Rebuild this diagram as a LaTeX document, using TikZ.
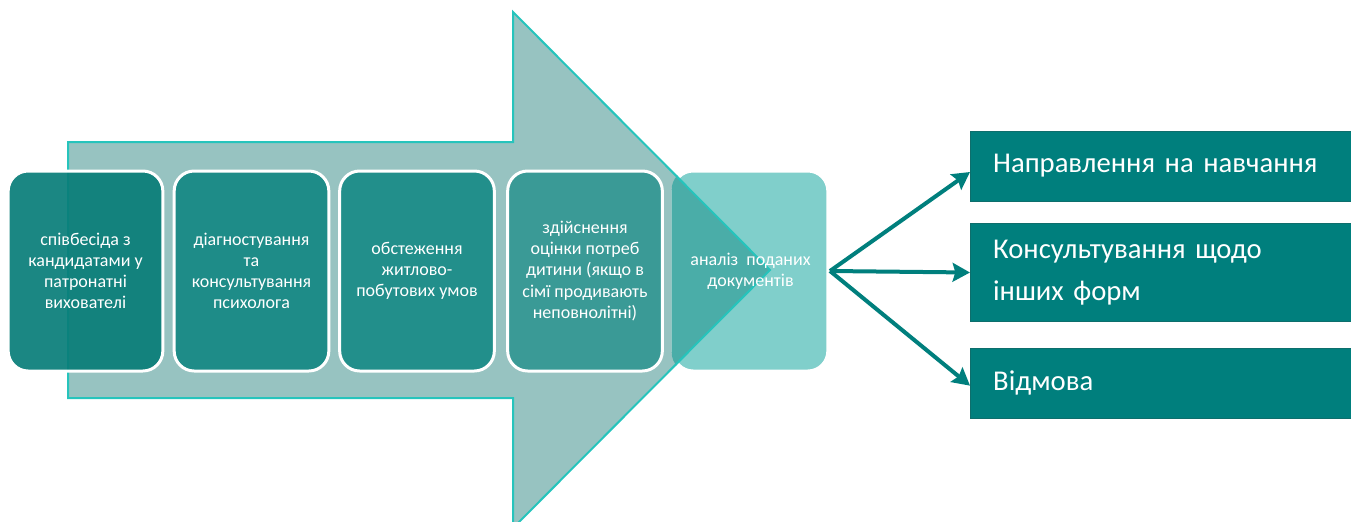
\documentclass[tikz,border=0pt]{standalone}
\usepackage{fontspec}
\setmainfont{Carlito}
\usetikzlibrary{arrows.meta}
\definecolor{arrowfill}{RGB}{151,195,193}
\definecolor{arrowline}{RGB}{38,196,188}
\definecolor{stageA}{RGB}{8,125,120}
\definecolor{stageB}{RGB}{30,140,136}
\definecolor{stageC}{RGB}{34,143,139}
\definecolor{stageD}{RGB}{58,154,150}
\definecolor{stageE}{RGB}{128,207,203}
\definecolor{stageEdark}{RGB}{74,173,168}
\definecolor{resfill}{RGB}{0,127,125}
\definecolor{resline}{RGB}{14,110,108}
\tikzset{every picture/.style={line width=0.75pt}}
\tikzset{
  stagebox/.style={draw=white, line width=2.25pt, rounded corners=15pt,
    minimum width=116pt, minimum height=150pt, align=center, text=white,
    font=\fontsize{13.5}{15.8}\selectfont},
  resbox/.style={draw=resline, fill=resfill, line width=0.75pt, anchor=west,
    minimum width=290pt, text width=268pt, inner xsep=17pt, align=left,
    text=white, font=\fontsize{21.5}{31.5}\selectfont},
  forkline/.style={draw=resfill, line width=3pt,
    -{Stealth[length=13pt,width=14pt,inset=2pt]}}
}

\begin{document}
\begin{tikzpicture}[x=0.75pt,y=0.75pt,yscale=-1,xscale=1]
\useasboundingbox (0,0) rectangle (1351,521);

%Shape: Big arrow
\draw [draw=arrowline, fill=arrowfill, line width=1.5pt] (68,142) -- (513,142) -- (513,12) -- (770,270) -- (513,528) -- (513,398) -- (68,398) -- cycle ;

% Stage nodes
\node [stagebox, fill=stageA, fill opacity=0.92, text opacity=1] (talk) at (85.5,271) {співбесіда з\\кандидатами у\\патронатні\\вихователі};
\node [stagebox, fill=stageB] (psych) at (251.5,271) {діагностування\\та\\консультування\\психолога};
\node [stagebox, fill=stageC] (home) at (417,271) {обстеження\\житлово-\\побутових умов};
\node [stagebox, fill=stageD] (needs) at (585,271) {здійснення\\оцінки потреб\\дитини (якщо в\\сімї продивають\\неповнолітні)};
\node [stagebox, fill=stageE] (docs) at (750.5,271) {};
% darker part of the arrow head seen through the last stage
\begin{scope}
\clip [rounded corners=15pt] (docs.north west) rectangle (docs.south east);
\fill [stageEdark] (513,12) -- (770,270) -- (513,528) -- cycle ;
\draw [arrowline, line width=1.5pt] (513,12) -- (770,270) -- (513,528) ;
\end{scope}
\node [align=center, text=white, font=\fontsize{13.5}{15.8}\selectfont] (docstext) at (docs.center) {аналіз\ \ поданих\\документів};

% Result nodes
\node [resbox, minimum height=52.5pt] (study) at (970,166) {Направлення на навчання};
\node [resbox, minimum height=74pt] (consult) at (970,272.5) {Консультування щодо\\інших форм};
\node [resbox, minimum height=52.5pt] (refuse) at (970,383) {Відмова};

% Connectors
\coordinate (fork) at (830,271);
\draw [forkline] (fork) -- ([yshift=4.5pt]study.west);
\draw [forkline] (fork) -- (consult.west);
\draw [forkline] (fork) -- ([yshift=2pt]refuse.west);

\end{tikzpicture}
\end{document}
